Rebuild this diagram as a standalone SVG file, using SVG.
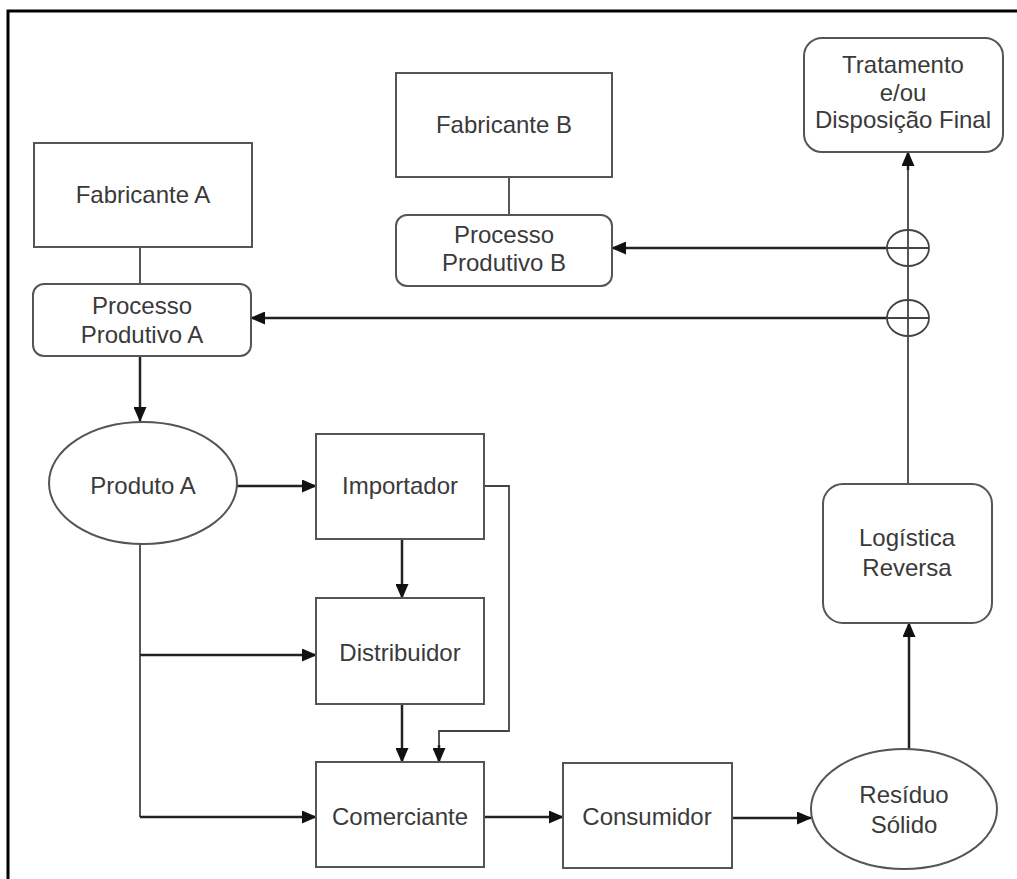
<svg xmlns="http://www.w3.org/2000/svg" width="1017" height="879" viewBox="0 0 1017 879">
<style>
.box{fill:#fff;stroke:#555;stroke-width:2}
.t{font-family:"Liberation Sans",Arial,sans-serif;font-size:24px;fill:#3a3a3a;text-anchor:middle}
.c{fill:none;stroke:#222;stroke-width:2.5}
.thin{fill:none;stroke:#444;stroke-width:1.8}
</style>
<defs>
<marker id="ah" markerUnits="userSpaceOnUse" markerWidth="15" markerHeight="13" refX="14" refY="6.5" orient="auto">
<path d="M0,0 L15,6.5 L0,13 z" fill="#111"/>
</marker>
</defs>
<rect x="0" y="0" width="1017" height="879" fill="#fff"/>
<path d="M8,879 V11 H1017" fill="none" stroke="#000" stroke-width="3"/>

<g id="connectors">
<path class="thin" d="M140,247 V284"/>
<path class="thin" d="M509,177 V215"/>
<path class="c" d="M140,356 V421" marker-end="url(#ah)"/>
<path class="c" d="M237,486 H316" marker-end="url(#ah)"/>
<path class="thin" d="M140,544 V817"/>
<path class="c" d="M140,655 H316" marker-end="url(#ah)"/>
<path class="c" d="M140,817 H316" marker-end="url(#ah)"/>
<path class="c" d="M402,539 V598" marker-end="url(#ah)"/>
<path class="c" d="M402,704 V762" marker-end="url(#ah)"/>
<path class="thin" d="M484,486 H509 V731 H439 V748"/>
<path class="c" d="M439,745 V762" marker-end="url(#ah)"/>
<path class="c" d="M484,817 H563" marker-end="url(#ah)"/>
<path class="c" d="M732,818 H811" marker-end="url(#ah)"/>
<path class="c" d="M909,749 V623" marker-end="url(#ah)"/>
<path class="thin" d="M908,484 V165"/>
<path class="c" d="M908,170 V152" marker-end="url(#ah)"/>
<path class="c" d="M887,248 H612" marker-end="url(#ah)"/>
<path class="c" d="M887,318 H251" marker-end="url(#ah)"/>
<ellipse cx="908" cy="248" rx="21" ry="18" class="thin"/>
<path class="thin" d="M887,248 H929"/>
<ellipse cx="908" cy="318" rx="21" ry="18" class="thin"/>
<path class="thin" d="M887,318 H929"/>
</g>

<g id="fabricanteA">
<rect class="box" x="34" y="143" width="218" height="104"/>
<text class="t" x="143" y="203">Fabricante A</text>
</g>
<g id="processoA">
<rect class="box" x="33" y="284" width="218" height="72" rx="11"/>
<text class="t" x="142" y="314">Processo</text>
<text class="t" x="142" y="343">Produtivo A</text>
</g>
<g id="fabricanteB">
<rect class="box" x="396" y="73" width="216" height="104"/>
<text class="t" x="504" y="133">Fabricante B</text>
</g>
<g id="processoB">
<rect class="box" x="396" y="215" width="216" height="71" rx="11"/>
<text class="t" x="504" y="243">Processo</text>
<text class="t" x="504" y="271">Produtivo B</text>
</g>
<g id="tratamento">
<rect class="box" x="804" y="38" width="199" height="114" rx="18"/>
<text class="t" x="903" y="73">Tratamento</text>
<text class="t" x="903" y="101">e/ou</text>
<text class="t" x="903" y="128">Disposição Final</text>
</g>
<g id="produtoA">
<ellipse class="box" cx="143" cy="483" rx="94" ry="61"/>
<text class="t" x="143" y="494">Produto A</text>
</g>
<g id="importador">
<rect class="box" x="316" y="434" width="168" height="105"/>
<text class="t" x="400" y="494">Importador</text>
</g>
<g id="distribuidor">
<rect class="box" x="316" y="598" width="168" height="106"/>
<text class="t" x="400" y="661">Distribuidor</text>
</g>
<g id="comerciante">
<rect class="box" x="316" y="762" width="168" height="105"/>
<text class="t" x="400" y="825">Comerciante</text>
</g>
<g id="consumidor">
<rect class="box" x="563" y="763" width="169" height="105"/>
<text class="t" x="647" y="825">Consumidor</text>
</g>
<g id="residuo">
<ellipse class="box" cx="904" cy="809" rx="93" ry="60"/>
<text class="t" x="904" y="803">Resíduo</text>
<text class="t" x="904" y="833">Sólido</text>
</g>
<g id="logistica">
<rect class="box" x="823" y="484" width="169" height="139" rx="20"/>
<text class="t" x="907" y="546">Logística</text>
<text class="t" x="907" y="576">Reversa</text>
</g>
</svg>
